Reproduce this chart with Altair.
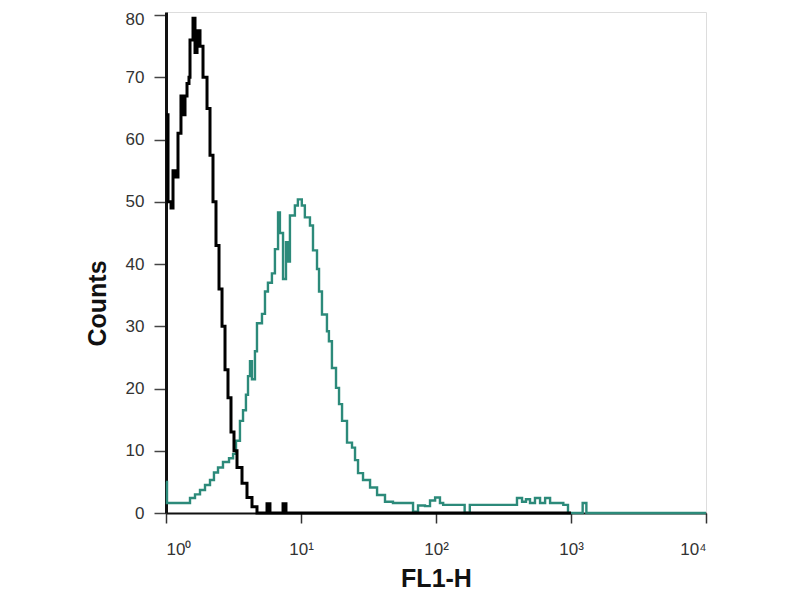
import altair as alt
import pandas as pd

# Black histogram (unstained / control) — FL1-H channel value vs counts
black_x = [1.0, 1.035, 1.09, 1.127, 1.186, 1.227, 1.291, 1.336, 1.383, 1.431, 1.48, 1.506,
           1.585, 1.64, 1.698, 1.786, 1.88, 2.013, 2.118, 2.229, 2.346, 2.47, 2.6, 2.736,
           2.879, 3.03, 3.189, 3.357, 3.656, 3.981, 4.335, 4.72, 5.41, 5.6, 5.89, 6.98,
           7.36, 7.74, 1000.0]
black_y = [64, 50, 49, 55, 54, 61, 67, 64, 67, 69, 70, 76,
           79.5, 74, 77.5, 75, 70, 65, 57.5, 50, 43, 36, 30, 23,
           18.5, 13, 10, 7.3, 4.8, 2.5, 1, 0, 0, 1.5, 0, 0,
           1.5, 0, 0]

# Teal histogram (stained sample)
teal_x = [1.0, 1.017, 1.383, 1.506, 1.64, 1.786, 1.945, 2.118, 2.266, 2.428, 2.643, 2.93,
          3.14, 3.30, 3.53, 3.72, 3.91, 4.05, 4.19, 4.33, 4.56, 4.72, 5.14, 5.41,
          5.69, 6.09, 6.41, 6.76, 6.98, 7.36, 7.74, 8.01, 8.28, 9.01, 9.48, 10.14,
          10.68, 11.65, 12.27, 13.14, 13.6, 14.3, 15.57, 16.1, 16.95, 18.17, 19.13, 20.14,
          21.92, 23.87, 25.13, 26.45, 28.8, 32.47, 36.6, 41.9, 48.0, 64.2, 67.6, 73.6,
          82.9, 90.3, 98.5, 107, 113, 159, 163, 178, 372, 398, 434, 464,
          497, 541, 590, 643, 700, 788, 877, 950, 1170, 1220, 1300, 10000]
teal_y = [5, 1.6, 1.6, 2.4, 3, 3.7, 4.5, 5.3, 6.5, 7.3, 8.2, 8.8,
          9.5, 11.6, 14.8, 16.5, 19, 22, 24.4, 21.5, 26, 30.5, 32, 35.6,
          37, 38.5, 42.4, 48.3, 45, 37.6, 43.5, 40.4, 47.8, 49.4, 50.4, 49.4,
          47.5, 46.2, 42.2, 39.2, 35.6, 31.9, 29.2, 27.6, 23.3, 20.1, 17.5, 14.8,
          11.3, 10.5, 8.5, 6.4, 5.3, 4.1, 2.9, 1.8, 1.6, 1.6, 0.2, 1.2,
          1.1, 2, 2.5, 1.6, 1.3, 1.3, 0, 1.3, 1.3, 2.4, 1.8, 2.2,
          1.6, 2.4, 1.6, 2.4, 1.6, 1.6, 1.3, 0, 0, 1.6, 0, 0]

x_ticks = [1, 10, 100, 1000, 10000]
x_tick_labels = ["10⁰", "10¹", "10²", "10³", "10⁴"]
y_ticks = [0, 10, 20, 30, 40, 50, 60, 70, 80]

black_df = pd.DataFrame({"x": black_x, "y": black_y})
teal_df = pd.DataFrame({"x": teal_x, "y": teal_y})

label_expr = " : ".join(
    f"datum.value == {v} ? '{t}'" for v, t in zip(x_ticks, x_tick_labels)
) + " : ''"

FONT = "Liberation Sans"

x_enc = alt.X(
    "x:Q",
    scale=alt.Scale(type="log", domain=[1, 10000], nice=False),
    axis=alt.Axis(
        values=x_ticks, labelExpr=label_expr, title="FL1-H",
        titleFont=FONT, titleFontSize=25, titleFontWeight="bold", titleColor="#111",
        titleY=65, titleBaseline="middle",
        labelFont=FONT, labelFontSize=17, labelColor="#333", labelPadding=18,
        tickSize=10, tickColor="#333", tickWidth=1.5,
        domainColor="#111", domainWidth=2, grid=False,
    ),
)
y_enc = alt.Y(
    "y:Q",
    scale=alt.Scale(domain=[0, 80.5], nice=False),
    axis=alt.Axis(
        values=y_ticks, title="Counts",
        titleFont=FONT, titleFontSize=25, titleFontWeight="bold", titleColor="#111",
        titleX=-69, titleY=291, titleAngle=-90, titleBaseline="middle", titleAlign="center",
        labelFont=FONT, labelFontSize=17, labelColor="#333", labelPadding=10,
        labelOffset={"condition": {"test": f"datum.value == {y_ticks[-1]}", "value": 4}, "value": 0},
        tickSize=12, tickColor="#444", tickWidth=1.5,
        domainColor="#111", domainWidth=3, grid=False,
    ),
)

teal = alt.Chart(teal_df).mark_line(
    color="#2c8a7a", strokeWidth=2.4, interpolate="step-after"
).encode(x=x_enc, y=y_enc)

black = alt.Chart(black_df).mark_line(
    color="#000000", strokeWidth=3, interpolate="step-after"
).encode(x=x_enc, y=y_enc)

chart = (
    alt.layer(teal, black)
    .properties(
        width=540, height=501,
        autosize=alt.AutoSizeParams(type="none"),
        padding={"left": 158, "top": 4, "right": 70, "bottom": 92},
    )
    .configure_view(stroke="#888", strokeWidth=2)
    .configure(background="white")
)

chart.save("out.html", embed_options={"renderer": "svg", "actions": False})
